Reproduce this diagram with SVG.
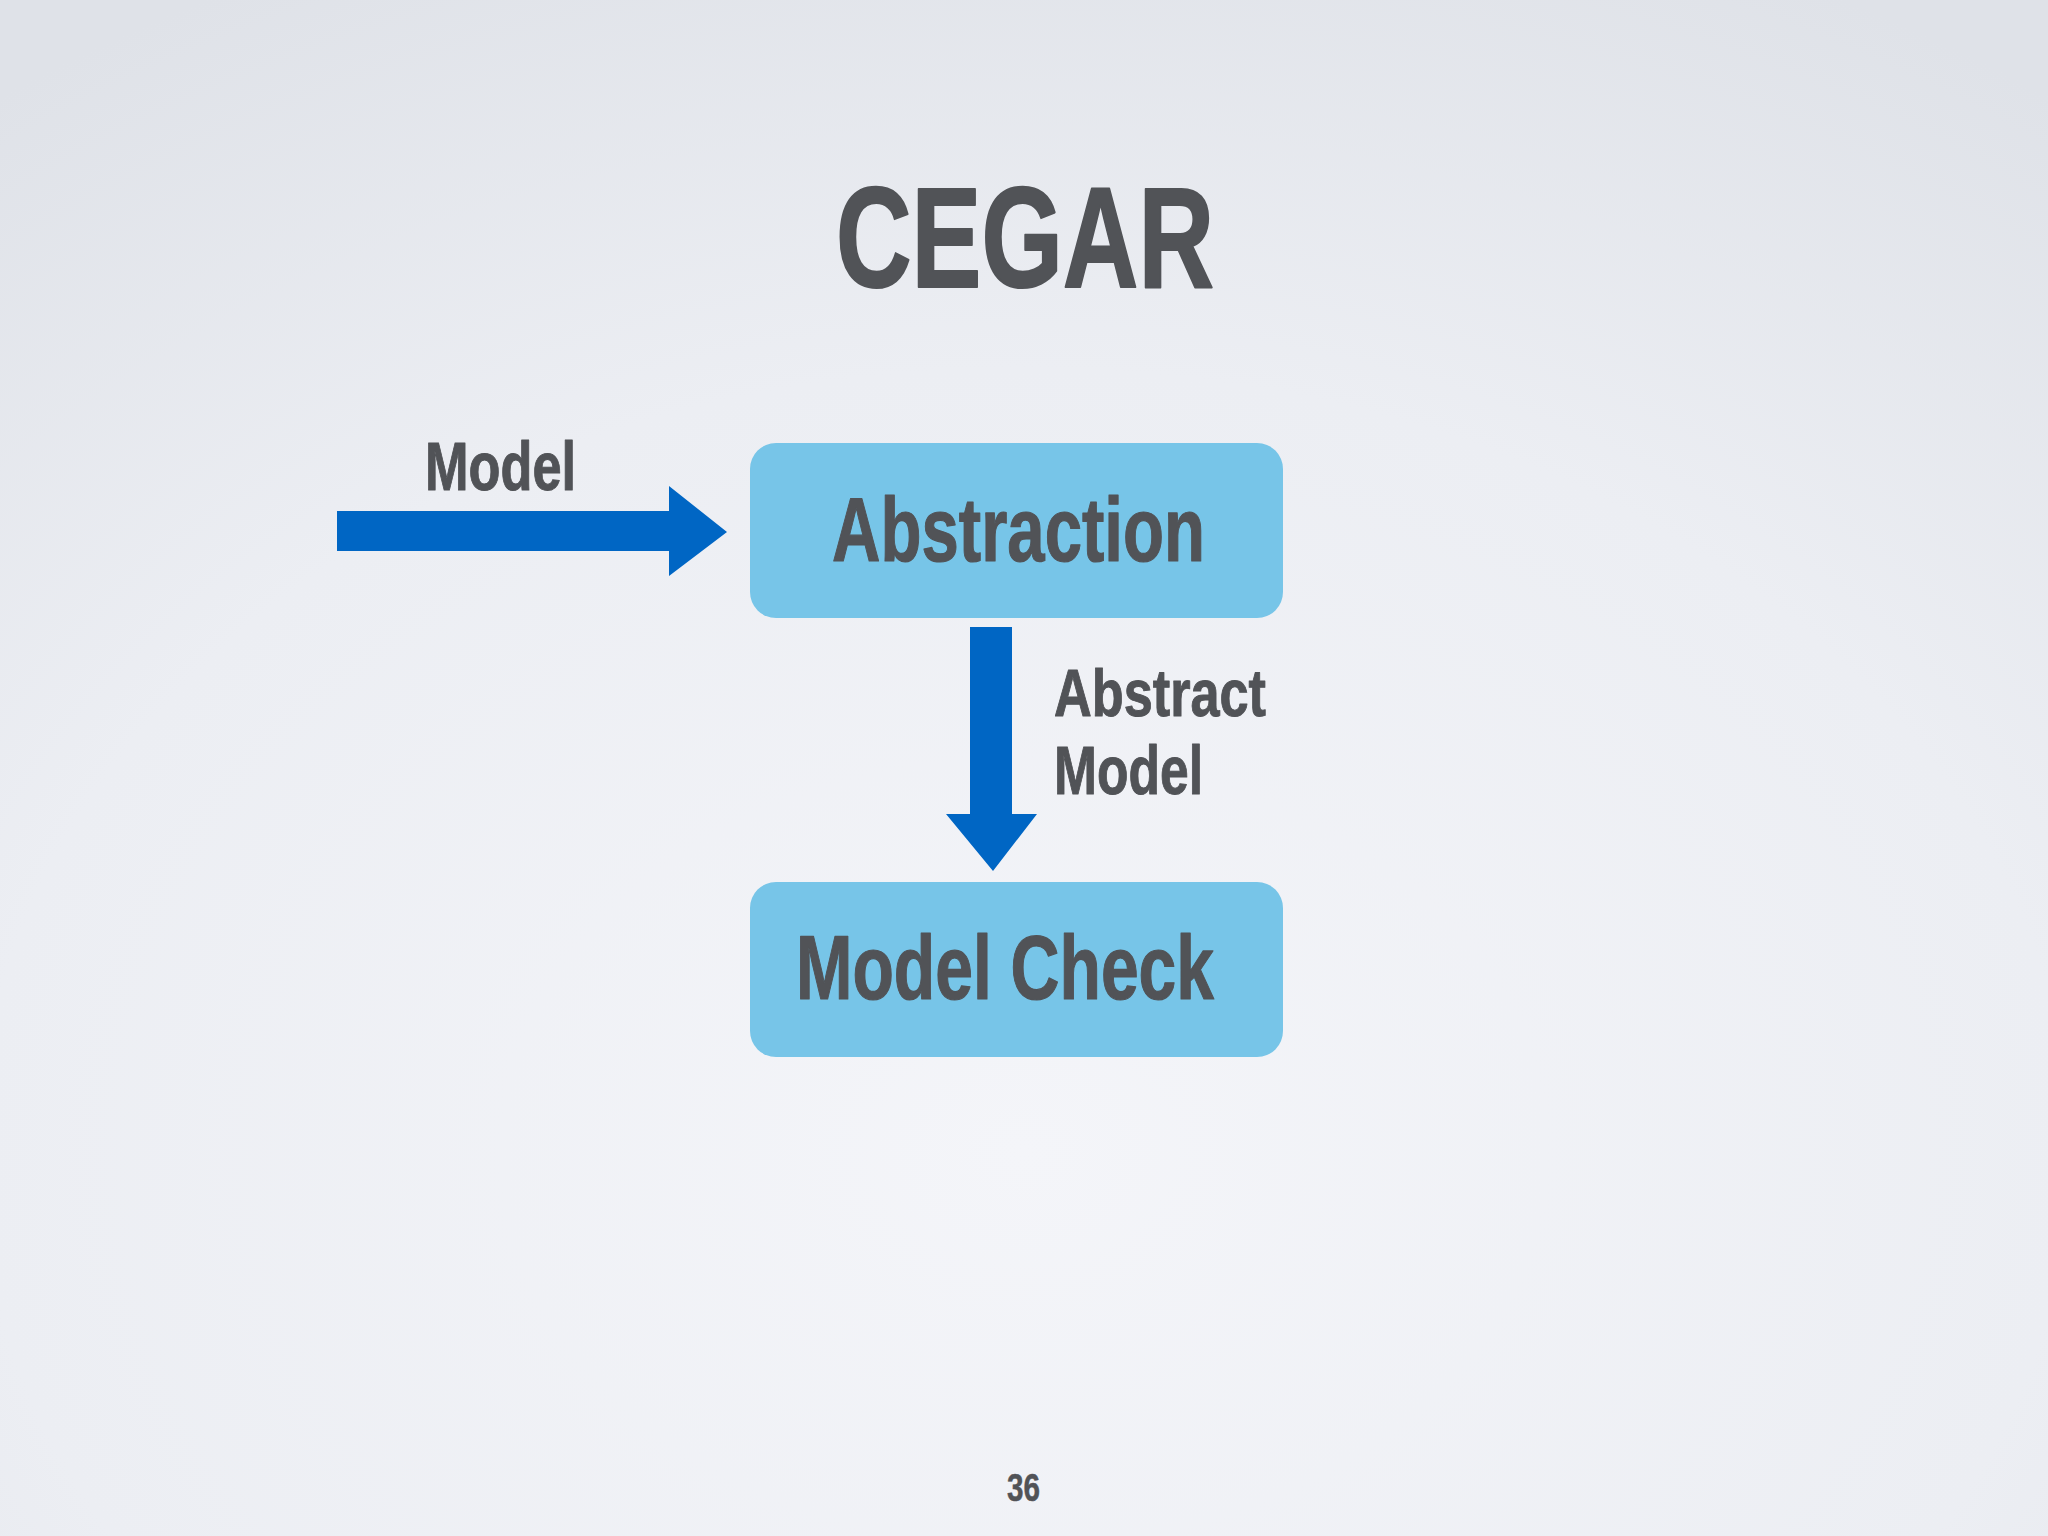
<svg xmlns="http://www.w3.org/2000/svg" width="2048" height="1536" viewBox="0 0 2048 1536">
<defs>
<radialGradient id="bg" cx="0.5" cy="0.75" r="0.85">
<stop offset="0" stop-color="#f4f5f9"/>
<stop offset="0.6" stop-color="#eceef3"/>
<stop offset="1" stop-color="#dfe2e8"/>
</radialGradient>
<style>
.t{font-family:"Liberation Sans",Arial,sans-serif;font-weight:bold;fill:#515357;stroke:#515357;stroke-linejoin:round}
.box{fill:#77c5e8}
.arr{fill:#0066c4}
</style>
</defs>
<rect width="2048" height="1536" fill="url(#bg)"/>
<text class="t" x="836" y="287" font-size="142" stroke-width="2" textLength="378" lengthAdjust="spacingAndGlyphs">CEGAR</text>
<g id="abstraction">
<rect class="box" x="750" y="443" width="533" height="175" rx="26"/>
<text class="t" x="832" y="561" font-size="91" stroke-width="1.2" textLength="373" lengthAdjust="spacingAndGlyphs">Abstraction</text>
</g>
<g id="modelcheck">
<rect class="box" x="750" y="882" width="533" height="175" rx="26"/>
<text class="t" x="796" y="999" font-size="90" stroke-width="1.2" textLength="418" lengthAdjust="spacingAndGlyphs">Model Check</text>
</g>
<g id="connectors">
<polygon class="arr" points="337,511 669,511 669,486 727,532 669,576 669,551 337,551"/>
<polygon class="arr" points="970,627 1012,627 1012,814 1037,814 993,871 946,814 970,814"/>
<text class="t" x="425" y="490" font-size="69" stroke-width="1" textLength="151" lengthAdjust="spacingAndGlyphs">Model</text>
<text class="t" x="1054" y="716" font-size="66" stroke-width="1" textLength="212" lengthAdjust="spacingAndGlyphs">Abstract</text>
<text class="t" x="1054" y="794" font-size="69" stroke-width="1" textLength="149" lengthAdjust="spacingAndGlyphs">Model</text>
</g>
<text class="t" x="1007" y="1501" font-size="39" stroke-width="0.5" textLength="33" lengthAdjust="spacingAndGlyphs">36</text>
</svg>
